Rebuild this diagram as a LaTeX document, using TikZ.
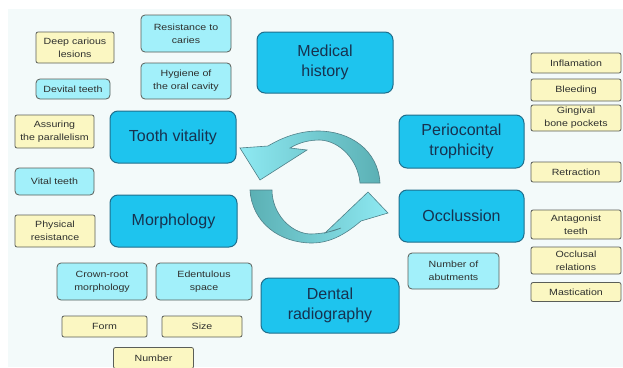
\documentclass[tikz,border=0pt]{standalone}
\usepackage{fontspec}
\setmainfont{Liberation Sans}
\newfontfamily\smallf[FakeStretch=1.18]{Liberation Sans}
\definecolor{bgc}{HTML}{F3FAFA}
\definecolor{bigfill}{HTML}{1EC4EE}
\definecolor{bigborder}{HTML}{1F6E8C}
\definecolor{bigtext}{HTML}{17324F}
\definecolor{cyanfill}{HTML}{A2F0FA}
\definecolor{yellowfill}{HTML}{FBF7C2}
\definecolor{smallborder}{HTML}{5A5E58}
\definecolor{smalltext}{HTML}{2E302E}
\definecolor{arrowlight}{HTML}{8EE9F2}
\definecolor{arrowdark}{HTML}{5BB0B4}
\definecolor{arrowline}{HTML}{4F8088}
\tikzset{
  bigbox/.style={draw=bigborder, fill=bigfill, rounded corners=8pt, line width=1pt,
    inner sep=0pt, align=center, text=bigtext, font=\fontsize{16}{20}\selectfont},
  cyanbox/.style={draw=smallborder, fill=cyanfill, rounded corners=4pt, line width=0.8pt,
    inner sep=0pt, align=center, text=smalltext, font=\smallf\fontsize{9}{13}\selectfont},
  yellowbox/.style={cyanbox, fill=yellowfill, rounded corners=2pt},
  cyclearrow/.style={draw=arrowline, line width=0.6pt}
}
\begin{document}
\begin{tikzpicture}[x=1pt, y=-1pt]
\useasboundingbox (0,0) rectangle (623,367);
\fill[white] (0,0) rectangle (623,367);
\fill[bgc] (8,9) rectangle (623,367);

% main boxes
\node[bigbox, minimum width=136pt, minimum height=61pt] (medical) at (325,62.5) {Medical\\history};
\node[bigbox, minimum width=126pt, minimum height=52pt] (tooth) at (173,137) {Tooth vitality};
\node[bigbox, minimum width=127pt, minimum height=52pt] (morph) at (173.5,221) {Morphology};
\node[bigbox, minimum width=138pt, minimum height=55pt] (dental) at (330,305.5) {Dental\\radiography};
\node[bigbox, minimum width=125pt, minimum height=53pt] (perio) at (461.5,141.5) {Periocontal\\trophicity};
\node[bigbox, minimum width=125pt, minimum height=52pt] (occl) at (461.5,216) {Occlussion};

% light cyan boxes
\node[cyanbox, minimum width=90pt, minimum height=37pt] (resist) at (186,33.5) {Resistance to\\caries};
\node[cyanbox, minimum width=90pt, minimum height=36pt] (hygiene) at (186,81) {Hygiene of\\the oral cavity};
\node[cyanbox, minimum width=74pt, minimum height=20pt] (devital) at (73,89) {Devital teeth};
\node[cyanbox, minimum width=79pt, minimum height=27pt] (vital) at (54.5,181.5) {Vital teeth};
\node[cyanbox, minimum width=90pt, minimum height=37pt] (crown) at (102,281.5) {Crown-root\\morphology};
\node[cyanbox, minimum width=96pt, minimum height=37pt] (edent) at (204,281.5) {Edentulous\\space};
\node[cyanbox, minimum width=91pt, minimum height=36pt] (abut) at (453.5,271) {Number of\\abutments};

% yellow boxes
\node[yellowbox, minimum width=78pt, minimum height=31pt] (deep) at (75,47.5) {Deep carious\\lesions};
\node[yellowbox, minimum width=79pt, minimum height=33pt] (assur) at (54.5,131.5) {Assuring\\the parallelism};
\node[yellowbox, minimum width=80pt, minimum height=32pt] (phys) at (55,231) {Physical\\resistance};
\node[yellowbox, minimum width=85pt, minimum height=21pt] (form) at (104.5,326.5) {Form};
\node[yellowbox, minimum width=80pt, minimum height=21pt] (size) at (202,326.5) {Size};
\node[yellowbox, minimum width=80pt, minimum height=21pt] (number) at (153.5,358) {Number};
\node[yellowbox, minimum width=90pt, minimum height=20pt] (inflam) at (576,63) {Inflamation};
\node[yellowbox, minimum width=90pt, minimum height=22pt] (bleed) at (576,90) {Bleeding};
\node[yellowbox, minimum width=90pt, minimum height=26pt] (ging) at (576,118) {Gingival\\bone pockets};
\node[yellowbox, minimum width=90pt, minimum height=20pt] (retr) at (576,172) {Retraction};
\node[yellowbox, minimum width=90pt, minimum height=29pt] (antag) at (576,224.5) {Antagonist\\teeth};
\node[yellowbox, minimum width=90pt, minimum height=27pt] (occrel) at (576,260.5) {Occlusal\\relations};
\node[yellowbox, minimum width=90pt, minimum height=19pt] (mast) at (576,292) {Mastication};

% cycle arrows
\shade[cyclearrow, left color=arrowlight, middle color=arrowlight!85!arrowdark, right color=arrowdark]
  (380,183) .. controls (378,150) and (350,131) .. (318,131)
  .. controls (300,131) and (283,137) .. (268,146)
  -- (240,148) -- (260,180) -- (307,150) -- (290,148)
  .. controls (300,142) and (310,140) .. (320,140)
  .. controls (340,141) and (358,160) .. (360,183) -- cycle;
\shade[cyclearrow, left color=arrowdark, middle color=arrowlight!85!arrowdark, right color=arrowlight]
  (250,190) .. controls (252,223) and (280,243) .. (312,243)
  .. controls (332,243) and (348,232) .. (361,221)
  -- (388,213) -- (368,192) -- (325,233) -- (341,228)
  .. controls (332,232) and (320,234) .. (310,234)
  .. controls (290,233) and (272,213) .. (272,190) -- cycle;
\end{tikzpicture}
\end{document}
